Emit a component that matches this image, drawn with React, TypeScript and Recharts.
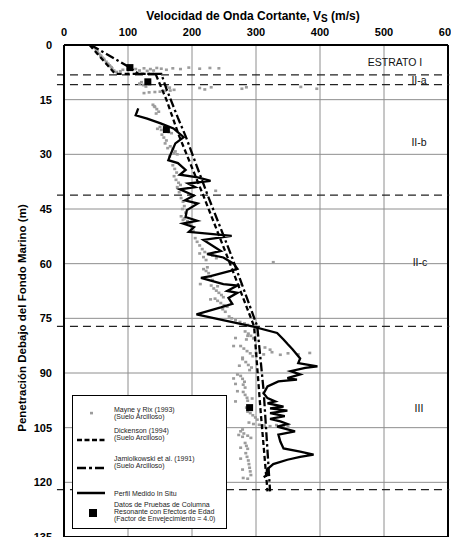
import React from "react";
import { ScatterChart, Scatter, XAxis, YAxis, CartesianGrid, ReferenceLine } from "recharts";

const font = "'Liberation Sans', Arial, Helvetica, sans-serif";

const vsTicks = [0, 100, 200, 300, 400, 500, 600];
const depthTicks = [0, 15, 30, 45, 60, 75, 90, 105, 120, 135];

// stratum boundaries (m) and names
const strataBounds = [8.2, 10.9, 41.2, 77.2, 122.0];
const strataNames = ["ESTRATO I", "II-a", "II-b", "II-c", "III"];

// [Vs (m/s), depth (m)]
const dickensonProfile = [
  [40, 0], [80, 7.9], [143, 7.9], [160, 15], [180, 25], [217, 41], [255, 58],
  [297, 77.2], [307, 100], [318, 122.5],
];

const jamiolkowskiProfile = [
  [42, 0], [103, 6.2], [116, 7.9], [152, 7.9], [160, 12], [178, 20], [190, 25],
  [224, 41], [262, 58], [302, 77.2], [312, 95], [322, 122.5],
];

const insituProfile = [
  [116, 17.4], [112, 19.3], [130, 20.2], [151, 21.5], [171, 22.9], [187, 25.3], [174, 27],
  [167, 29.8], [163, 31.6], [178, 32.4], [190, 34.3], [181, 35.6], [209, 36.3], [229, 37.3],
  [194, 38], [205, 39], [181, 39.6], [203, 41.3], [189, 42.6], [209, 43.5], [192, 45.3],
  [190, 47.2], [208, 48.2], [186, 49], [203, 50], [195, 51.3], [262, 52.4], [218, 53.5],
  [245, 56.5], [224, 57.4], [249, 58.3], [265, 60], [271, 61.4], [260, 62], [229, 63.4],
  [214, 63.9], [249, 65.6], [271, 66], [255, 67.5], [271, 68], [257, 69.4], [263, 71],
  [245, 72], [207, 73.9], [252, 75.6], [296, 77.3], [333, 79], [343, 80.8], [349, 82],
  [357, 83.5], [369, 86], [366, 87.3], [396, 88.2], [377, 88.6], [354, 89.5], [369, 90.4],
  [349, 91.4], [364, 91.8], [335, 92.3], [318, 93.7], [312, 95.6], [318, 96.9], [330, 97.8],
  [318, 98.3], [343, 99.2], [322, 99.7], [349, 100.3], [322, 101], [345, 101.8], [322, 102.6],
  [338, 103.3], [349, 104], [333, 104.7], [361, 106], [335, 106.9], [338, 108.8], [343, 110.7],
  [369, 111.6], [390, 112.4], [369, 113], [349, 113.8], [327, 115], [317, 116.5], [317, 118],
  [312, 118.6],
];

const mayneRixPoints = [
  // estrato I
  [46, 0.6], [50, 1.2], [52, 1.8], [55, 2.4], [58, 3], [60, 3.5], [63, 4.1], [66, 4.6],
  [69, 5.2], [72, 5.8], [75, 6.4], [78, 7], [82, 7.4], [88, 7.2], [52, 2.2], [57, 2.9],
  [62, 3.8], [67, 5], [71, 5.6], [74, 6.1],
  [92, 6.8], [100, 6.5], [112, 6.6], [125, 6.4], [135, 6.6], [145, 6.3], [152, 6.5],
  [160, 6.8], [170, 6.4], [182, 6.6], [195, 6.2], [212, 6.5], [228, 6.3], [242, 6.4],
  [118, 7.0], [130, 7.1], [140, 7.0],
  // II-a
  [118, 10.6], [124, 11.0], [128, 11.4], [121, 10.2], [165, 11.7], [160, 11.3],
  [212, 11.8], [220, 12.2], [230, 11.6], [278, 12.0], [285, 11.6], [370, 11.5], [395, 12.0],
  [125, 13.2], [133, 13.0], [142, 12.9], [150, 12.8], [158, 12.6], [166, 12.5], [172, 12.3],
  // II-b
  [139, 16.4], [142, 17.0], [145, 17.6], [148, 18.3], [144, 18.8], [141, 16.8],
  [146, 23.0], [152, 23.3], [158, 23.6], [164, 23.9], [168, 24.2], [150, 22.5],
  [153, 24.6], [156, 25.4], [160, 26.2], [158, 27.0],
  [166, 27.8], [170, 28.5], [174, 29.2], [177, 30.0], [172, 29.6], [162, 28.3], [165, 30.6],
  [170, 33.0], [173, 34.0], [176, 35.0], [172, 36.0], [175, 37.0], [179, 37.8], [182, 38.4],
  [177, 39.0], [180, 40.4], [237, 40.0],
  // II-c
  [183, 42.0], [186, 43.0], [188, 44.2], [185, 45.0], [190, 46.0], [183, 47.0], [188, 47.6],
  [193, 48.3], [197, 49.2], [200, 50.2], [202, 51.0], [186, 48.0],
  [205, 53.0], [208, 54.0], [212, 55.0], [216, 56.0], [220, 56.8], [225, 57.3], [232, 57.8],
  [238, 58.5], [218, 58.2], [222, 59.0], [212, 57.2], [327, 59.6],
  [218, 61.5], [222, 62.0], [226, 62.6], [224, 61.0], [229, 63.5], [213, 65.6], [232, 64.5],
  [230, 66.0], [234, 66.8], [238, 67.4], [242, 68.0], [246, 68.6], [249, 69.2], [236, 69.6],
  [229, 69.8], [240, 66.2],
  [240, 70.2], [245, 70.8], [250, 71.4], [255, 71.8], [248, 72.5], [252, 73.2],
  [262, 75.0], [268, 75.5], [275, 76.0], [282, 76.4], [287, 76.8], [258, 74.5],
  // III
  [283, 78.6], [288, 79.2], [292, 79.8], [296, 80.5], [268, 80.4], [285, 80.8], [287, 79.8],
  [276, 82.6], [281, 83.3], [286, 84.0], [291, 84.6], [295, 85.4], [265, 82.6], [279, 85.8],
  [300, 84.5], [312, 84.9], [325, 84.3], [338, 85.0], [350, 84.6], [366, 84.9], [384, 84.5],
  [314, 83.0], [322, 83.6],
  [279, 86.2], [284, 87.0], [288, 87.8], [293, 88.5], [290, 89.2], [274, 88.0],
  [276, 90.8], [279, 91.6], [282, 92.4], [280, 93.2], [283, 94.0], [271, 90.4], [268, 93.0],
  [265, 91.5],
  [280, 95.2], [283, 96.0], [286, 96.8], [287, 97.6], [271, 95.0], [268, 97.8], [294, 97.0],
  [291, 101.0], [295, 101.6], [299, 102.2], [302, 102.8], [287, 100.6], [285, 99.5],
  [296, 104.0], [305, 104.2], [313, 104.4], [322, 104.6], [332, 104.3], [343, 104.8],
  [350, 104.5], [289, 103.6],
  [276, 106.0], [281, 106.6], [287, 107.2], [292, 107.8], [279, 105.5], [283, 109.2],
  [285, 110.0], [287, 110.8], [279, 107.5], [273, 107.0], [276, 110.5],
  [284, 112.0], [286, 113.0], [288, 114.0], [289, 115.0], [290, 116.0], [291, 117.0],
  [292, 118.0], [276, 113.5], [279, 116.5], [280, 118.8], [287, 119.0],
];

// resonant column tests, ageing factor 4.0
const resonantColumnPoints = [
  [103, 6.2], [131, 10.1], [160, 23.2], [290, 99.5],
];

const toXY = (rows: number[][]) => rows.map(([v, d]) => ({ v, d }));

const GreyDot = (p: { cx?: number; cy?: number }) => (
  <rect x={(p.cx ?? 0) - 1.5} y={(p.cy ?? 0) - 1.3} width={3} height={2.6} fill="#9c9c9c" />
);

const BlackSquare = (p: { cx?: number; cy?: number }) => (
  <rect x={(p.cx ?? 0) - 3.5} y={(p.cy ?? 0) - 3.5} width={7} height={7} fill="#000" />
);

const NoDot = () => <g />;

const tickStyle = { fill: "#000", fontSize: 11, fontWeight: 700, fontFamily: font };

const legendText: React.CSSProperties = {
  position: "absolute",
  left: 41,
  fontSize: 7,
  lineHeight: "7.2px",
  color: "#222",
  whiteSpace: "nowrap",
};

const stratumLabel: React.CSSProperties = {
  position: "absolute",
  fontSize: 10.5,
  color: "#111",
  transform: "translate(-50%, -50%)",
  whiteSpace: "nowrap",
};

const labelSpots = [
  { left: 387, top: 54 },
  { left: 411, top: 72 },
  { left: 411, top: 134 },
  { left: 412, top: 254 },
  { left: 411, top: 400 },
];

export default function App() {
  return (
    <div style={{ position: "relative", width: 451, height: 559, fontFamily: font }}>
      <ScatterChart width={451} height={559} margin={{ top: 7, right: 11, bottom: 30, left: 16 }}>
        <CartesianGrid stroke="#8e8e8e" strokeWidth={1} />
        <XAxis
          type="number" dataKey="v" orientation="top" domain={[0, 600]} ticks={vsTicks}
          height={30} tickLine={false} tickSize={0} tickMargin={9}
          axisLine={{ stroke: "#000", strokeWidth: 2 }} tick={tickStyle}
        />
        <YAxis
          type="number" dataKey="d" domain={[0, 135]} reversed ticks={depthTicks}
          width={40} tickLine={false} tickSize={0} tickMargin={12}
          axisLine={{ stroke: "#000", strokeWidth: 2 }} tick={tickStyle}
        />
        <ReferenceLine x={600} stroke="#000" strokeWidth={2} />
        <ReferenceLine y={135} stroke="#000" strokeWidth={2} />
        {strataBounds.map((d) => (
          <ReferenceLine
            key={d}
            segment={[{ x: -11, y: d }, { x: 602, y: d }]}
            ifOverflow="visible"
            stroke="#222" strokeWidth={1.3} strokeDasharray="8 5"
          />
        ))}
        <Scatter data={toXY(mayneRixPoints)} shape={GreyDot} isAnimationActive={false} />
        <Scatter
          data={toXY(dickensonProfile)} shape={NoDot} isAnimationActive={false}
          line={{ stroke: "#000", strokeWidth: 2.3, strokeDasharray: "5 3" }}
        />
        <Scatter
          data={toXY(jamiolkowskiProfile)} shape={NoDot} isAnimationActive={false}
          line={{ stroke: "#000", strokeWidth: 2.3, strokeDasharray: "9 3 2.5 3" }}
        />
        <Scatter
          data={toXY(insituProfile)} shape={NoDot} isAnimationActive={false}
          line={{ stroke: "#000", strokeWidth: 2.3 }}
        />
        <Scatter data={toXY(resonantColumnPoints)} shape={BlackSquare} isAnimationActive={false} />
      </ScatterChart>

      {/* title */}
      <div
        style={{
          position: "absolute", left: 245, top: 1, transform: "translateX(-50%)",
          fontSize: 12, fontWeight: 700, whiteSpace: "nowrap", color: "#000",
        }}
      >
        Velocidad de Onda Cortante, V<span style={{ fontSize: 10, position: "relative", top: 2 }}>S</span> (m/s)
      </div>

      {/* depth axis title */}
      <div
        style={{
          position: "absolute", left: 14, top: 310, transform: "translate(-50%, -50%) rotate(-90deg)",
          fontSize: 11.5, fontWeight: 700, whiteSpace: "nowrap", color: "#000",
        }}
      >
        Penetración Debajo del Fondo Marino (m)
      </div>

      {strataNames.map((name, i) => (
        <div key={name} style={{ ...stratumLabel, ...labelSpots[i] }}>{name}</div>
      ))}

      {/* legend */}
      <div
        style={{
          position: "absolute", left: 64, top: 387, width: 155, height: 134,
          border: "1.5px solid #000", background: "#fff", boxSizing: "border-box",
        }}
      >
        <svg width={155} height={134} style={{ position: "absolute", left: -1.5, top: -1.5 }}>
          <rect x={18} y={16.8} width={3} height={2.6} fill="#9c9c9c" />
          <line x1={5} x2={33} y1={45} y2={45} stroke="#000" strokeWidth={2.5} strokeDasharray="5 2.5" />
          <line x1={5} x2={33} y1={73} y2={73} stroke="#000" strokeWidth={2.5} strokeDasharray="9 3 3 3" />
          <line x1={5} x2={33} y1={98} y2={98} stroke="#000" strokeWidth={2.5} />
          <rect x={17} y={114} width={8} height={8} fill="#000" />
        </svg>
        <div style={{ ...legendText, top: 10 }}>Mayne y Rix (1993)<br />(Suelo Arcilloso)</div>
        <div style={{ ...legendText, top: 31 }}>Dickenson (1994)<br />(Suelo Arcilloso)</div>
        <div style={{ ...legendText, top: 59 }}>Jamiolkowski et al. (1991)<br />(Suelo Arcilloso)</div>
        <div style={{ ...legendText, top: 94 }}>Perfil Medido In Situ</div>
        <div style={{ ...legendText, top: 105 }}>
          Datos de Pruebas de Columna<br />Resonante con Efectos de Edad<br />(Factor de Envejecimiento = 4.0)
        </div>
      </div>
    </div>
  );
}
